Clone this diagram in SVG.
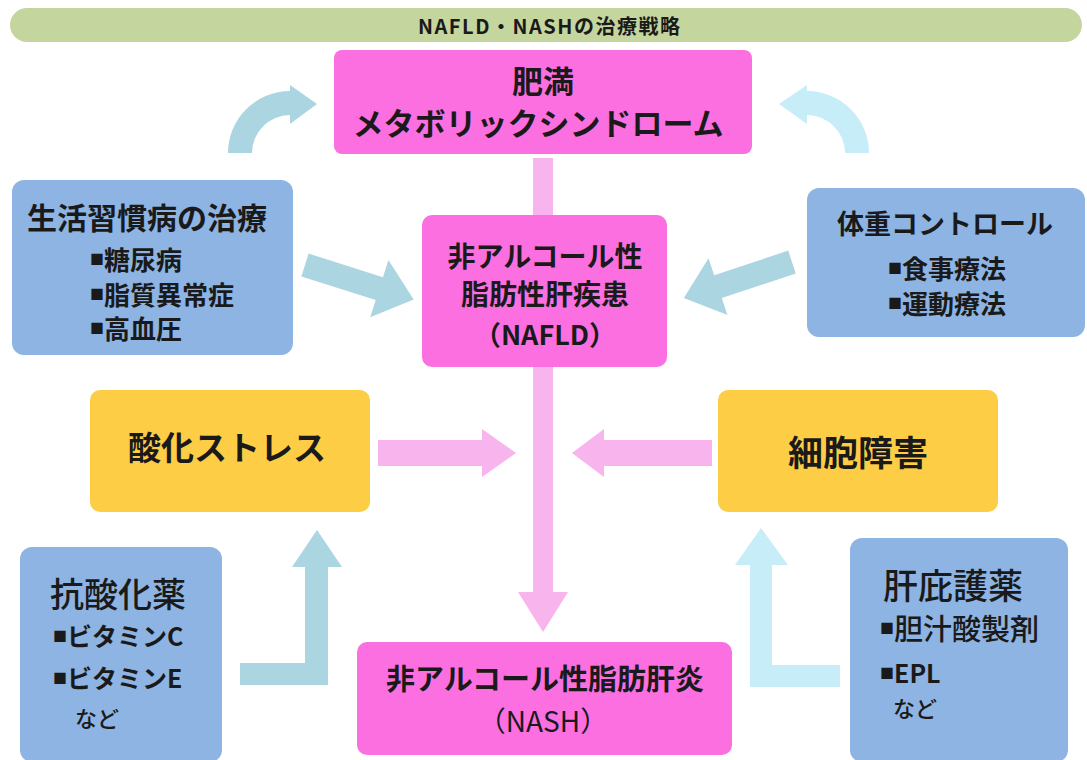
<svg xmlns="http://www.w3.org/2000/svg" width="1087" height="760" viewBox="0 0 1087 760">
<style>
text{font-family:"Noto Sans CJK JP","Noto Sans",sans-serif;fill:#1a1a1a;dominant-baseline:central}
.b{font-weight:bold}
.n{font-weight:500}
.pink{fill:#fc6fe1}
.blue{fill:#8db4e2}
.yel{fill:#fdcd45}
.parr{fill:#f8b4ed}
.barr{fill:#abd6e1}
.carr{fill:#c6edf8}
.sq{font-size:14px}
</style>
<rect x="10" y="8" width="1072" height="34" rx="17" fill="#c4d59e"/>
<text x="549" y="25" text-anchor="middle" class="b" font-size="20" textLength="262">NAFLD・NASHの治療戦略</text>

<g id="connectors">
  <polygon class="parr" points="533,158 553,158 553,592 568,592 543,632 518,592 533,592"/>
  <polygon class="parr" points="378,440 482,440 482,429 516,453 482,477 482,466 378,466"/>
  <polygon class="parr" points="712,440 604,440 604,429 572,453 604,477 604,466 712,466"/>
  <polygon class="barr" transform="translate(305,265) rotate(17.6)" points="0,-12 78,-12 78,-30 114,0 78,30 78,12 0,12"/>
  <polygon class="barr" transform="translate(792,262) rotate(161.6)" points="0,-12 78,-12 78,-30 114,0 78,30 78,12 0,12"/>
  <path class="barr" d="M228,153 A62,62 0 0 1 290,91 L290,85 L317,104 L290,124 L290,115 A38,38 0 0 0 252,153 Z"/>
  <path class="carr" d="M869,153 A62,62 0 0 0 807,91 L807,85 L779,104 L807,124 L807,115 A38,38 0 0 1 845,153 Z"/>
  <polygon class="barr" points="240,663 305,663 305,567 292,567 317,530 342,567 328,567 328,685 240,685"/>
  <polygon class="carr" points="840,665 772,665 772,565 788,565 761,528 735,565 750,565 750,687 840,687"/>
</g>

<g id="obesity">
  <rect class="pink" x="334" y="50" width="418" height="104" rx="8"/>
  <text x="543" y="79" text-anchor="middle" class="b" font-size="31">肥満</text>
  <text x="538" y="121" text-anchor="middle" class="b" font-size="31">メタボリックシンドローム</text>
</g>

<g id="nafld">
  <rect class="pink" x="422" y="215" width="245" height="152" rx="10"/>
  <text x="545" y="255" text-anchor="middle" class="b" font-size="28">非アルコール性</text>
  <text x="545" y="293" text-anchor="middle" class="b" font-size="28">脂肪性肝疾患</text>
  <text x="545" y="333" text-anchor="middle" class="b" font-size="27">（NAFLD）</text>
</g>

<g id="lifestyle">
  <rect class="blue" x="12" y="180" width="281" height="175" rx="12"/>
  <text x="147" y="216" text-anchor="middle" class="b" font-size="30">生活習慣病の治療</text>
  <text x="90" y="258" class="b" font-size="26"><tspan class="sq">■</tspan>糖尿病</text>
  <text x="90" y="293" class="b" font-size="26"><tspan class="sq">■</tspan>脂質異常症</text>
  <text x="90" y="327" class="b" font-size="26"><tspan class="sq">■</tspan>高血圧</text>
</g>

<g id="weight">
  <rect class="blue" x="807" y="188" width="278" height="149" rx="12"/>
  <text x="945" y="222" text-anchor="middle" class="b" font-size="27">体重コントロール</text>
  <text x="888" y="267" class="b" font-size="26"><tspan class="sq">■</tspan>食事療法</text>
  <text x="888" y="302" class="b" font-size="26"><tspan class="sq">■</tspan>運動療法</text>
</g>

<g id="oxidative">
  <rect class="yel" x="90" y="390" width="280" height="122" rx="10"/>
  <text x="227" y="446" text-anchor="middle" class="b" font-size="33">酸化ストレス</text>
</g>

<g id="cell">
  <rect class="yel" x="718" y="390" width="280" height="122" rx="10"/>
  <text x="858" y="450" text-anchor="middle" class="b" font-size="35">細胞障害</text>
</g>

<g id="antioxidant">
  <rect class="blue" x="20" y="547" width="202" height="215" rx="12"/>
  <text x="118" y="592" text-anchor="middle" class="n" font-size="34">抗酸化薬</text>
  <text x="53" y="635" class="b" font-size="25"><tspan class="sq">■</tspan>ビタミンC</text>
  <text x="53" y="677" class="b" font-size="25"><tspan class="sq">■</tspan>ビタミンE</text>
  <text x="75" y="717" class="n" font-size="22">など</text>
</g>

<g id="nash">
  <rect class="pink" x="357" y="642" width="375" height="113" rx="10"/>
  <text x="545" y="677" text-anchor="middle" class="b" font-size="29">非アルコール性脂肪肝炎</text>
  <text x="543" y="720" text-anchor="middle" font-size="28">（NASH）</text>
</g>

<g id="hepatoprotective">
  <rect class="blue" x="850" y="538" width="218" height="224" rx="12"/>
  <text x="953" y="583" text-anchor="middle" class="n" font-size="35">肝庇護薬</text>
  <text x="880" y="627" class="n" font-size="29"><tspan class="sq b">■</tspan>胆汁酸製剤</text>
  <text x="880" y="672" class="b" font-size="25"><tspan class="sq">■</tspan>EPL</text>
  <text x="893" y="707" class="n" font-size="22">など</text>
</g>
</svg>
